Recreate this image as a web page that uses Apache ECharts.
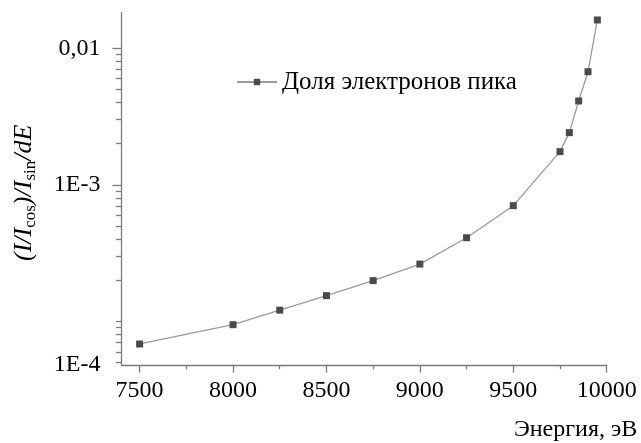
<!DOCTYPE html>
<html><head><meta charset="utf-8">
<script src="https://cdn.jsdelivr.net/npm/echarts@6/dist/echarts.min.js"></script>
<style>html,body{margin:0;padding:0;background:#fff}#c{width:641px;height:443px}</style>
</head><body><div id="c"></div>
<script>
// Energy, eV
const energy = [7500, 8000, 8250, 8500, 8750, 9000, 9250, 9500, 9750, 9800, 9850, 9900, 9950];
// (I/Icos)/Isin/dE
const fraction = [6.84e-5, 9.47e-5, 1.21e-4, 1.545e-4, 1.99e-4, 2.63e-4, 4.10e-4, 7.04e-4, 1.75e-3, 2.41e-3, 4.11e-3, 6.73e-3, 1.61e-2];
const seriesName = 'Доля электронов пика';

const X_MIN = 7403, X_MAX = 10000;
const Y_MIN = 4.8e-5, Y_MAX = 0.0182;
const xMajorTicks = [7500, 8000, 8500, 9000, 9500, 10000];
const xMinorTicks = [7750, 8250, 8750, 9250, 9750];
const yLabelValues = [Y_MIN, 1e-3, 1e-2];
const yLabelTexts = ['1E-4', '1E-3', '0,01'];
const yMinorTicks = [5e-5, 6e-5, 7e-5, 8e-5, 9e-5, 1e-4, 2e-4, 3e-4, 4e-4, 5e-4, 6e-4, 7e-4, 8e-4, 9e-4,
  2e-3, 3e-3, 4e-3, 5e-3, 6e-3, 7e-3, 8e-3, 9e-3];

const FONT = 'Liberation Serif';
const axisColor = '#7a7a7a';
const gridRect = {left: 121.5, right: 34.3, top: 12.7, bottom: 78};

const chart = echarts.init(document.getElementById('c'), null, {renderer: 'canvas'});
chart.setOption({
  animation: false,
  backgroundColor: '#fff',
  grid: [Object.assign({}, gridRect), Object.assign({}, gridRect)],
  legend: {
    data: [seriesName],
    left: 231, top: 64.5,
    itemWidth: 40, itemHeight: 8,
    textStyle: {fontFamily: FONT, fontSize: 25, color: '#000'}
  },
  xAxis: [{
    type: 'value', gridIndex: 0, min: X_MIN, max: X_MAX,
    axisLine: {show: true, lineStyle: {color: axisColor, width: 1.3}},
    axisTick: {show: true, customValues: xMinorTicks, length: 4.3, lineStyle: {color: axisColor, width: 1.3}},
    axisLabel: {show: false}, splitLine: {show: false}
  }, {
    type: 'value', gridIndex: 1, min: X_MIN, max: X_MAX,
    axisLine: {show: false},
    axisTick: {show: true, customValues: xMajorTicks, length: 7.7, lineStyle: {color: axisColor, width: 1.3}},
    axisLabel: {show: true, customValues: xMajorTicks, margin: 14, fontFamily: FONT, fontSize: 24, color: '#000',
      formatter: function (v) { return String(Math.round(v)); }},
    splitLine: {show: false},
    name: 'Энергия, эВ', nameLocation: 'end', nameGap: 30.6,
    nameTextStyle: {fontFamily: FONT, fontSize: 24, color: '#000', align: 'right', verticalAlign: 'top', padding: [53, 0, 0, 0]}
  }],
  yAxis: [{
    type: 'log', gridIndex: 0, min: Y_MIN, max: Y_MAX,
    axisLine: {show: true, lineStyle: {color: axisColor, width: 1.3}},
    axisTick: {show: true, customValues: yMinorTicks, length: 5.5, lineStyle: {color: axisColor, width: 1.3}},
    axisLabel: {show: false}, splitLine: {show: false}, minorTick: {show: false}
  }, {
    type: 'log', gridIndex: 1, min: Y_MIN, max: Y_MAX,
    axisLine: {show: false},
    axisTick: {show: true, customValues: [1e-3, 1e-2], length: 9, lineStyle: {color: axisColor, width: 1.3}},
    axisLabel: {
      show: true, customValues: yLabelValues, margin: 21, fontFamily: FONT, fontSize: 24, color: '#000',
      formatter: function (v) {
        let best = 0, d = Infinity;
        yLabelValues.forEach(function (t, i) { const dd = Math.abs(Math.log10(t) - Math.log10(v)); if (dd < d) { d = dd; best = i; } });
        return yLabelTexts[best];
      }
    },
    splitLine: {show: false},
    name: '{i|(I/I}{s|cos}{i|)/I}{s|sin}{i|/dE}',
    nameLocation: 'middle', nameGap: 82, nameRotate: 90,
    nameTextStyle: {
      color: '#000',
      padding: [0, 8, 0, 0],
      rich: {
        i: {fontFamily: FONT, fontStyle: 'italic', fontSize: 26, color: '#000', lineHeight: 30, verticalAlign: 'middle'},
        s: {fontFamily: FONT, fontSize: 17, color: '#000', lineHeight: 30, verticalAlign: 'bottom'}
      }
    }
  }],
  series: [{
    name: seriesName, type: 'line', xAxisIndex: 0, yAxisIndex: 0,
    data: energy.map(function (e, i) { return [e, fraction[i]]; }),
    symbol: 'rect', symbolSize: 7,
    lineStyle: {color: '#9a9a9a', width: 1.3},
    itemStyle: {color: '#4a4a4a'},
    clip: false
  }]
});
</script></body></html>
